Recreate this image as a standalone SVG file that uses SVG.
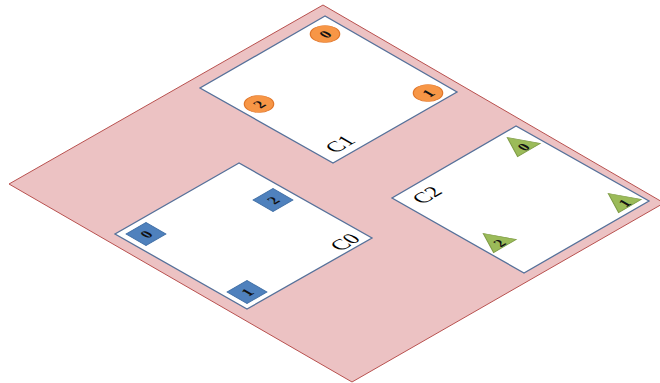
<svg xmlns="http://www.w3.org/2000/svg" width="660" height="383" viewBox="0 0 660 383">
<style>
.plane{fill:#ecc2c3;stroke:#b8514f;stroke-width:1}
.region{fill:#ffffff;stroke:#56719a;stroke-width:1.3}
.lbl{font-family:"Liberation Serif",serif;font-size:21px;fill:#000;text-anchor:middle}
.num{font-family:"Liberation Serif",serif;font-size:15px;font-weight:bold;fill:#111;text-anchor:middle}
.circ{fill:#f79646;stroke:#e0762a;stroke-width:1}
.sq{fill:#4f81bd;stroke:#3f6ea5;stroke-width:1}
.tri{fill:#9bbb59;stroke:#7f9c45;stroke-width:1}
</style>
<rect width="660" height="383" fill="#ffffff"/>
<g id="plane">
<polygon class="plane" points="323,5 9,184 352,382 664,203"/>
</g>
<g id="connectors"></g>
<g id="C1">
<polygon class="region" points="325,16 200,88 333,163 457,92"/>
<g transform="matrix(0.866 -0.5 0.866 0.5 340 144)"><text class="lbl" y="7">C1</text></g>
<g transform="matrix(0.866 -0.5 0.866 0.5 325 34)"><circle class="circ" r="12"/><text class="num" y="5.5">0</text></g>
<g transform="matrix(0.866 -0.5 0.866 0.5 428 93)"><circle class="circ" r="12"/><text class="num" y="5.5">1</text></g>
<g transform="matrix(0.866 -0.5 0.866 0.5 259 104)"><circle class="circ" r="12"/><text class="num" y="5.5">2</text></g>
</g>
<g id="C0">
<polygon class="region" points="239,163 115,234 247,309 372,238"/>
<g transform="matrix(0.866 -0.5 0.866 0.5 345 242)"><text class="lbl" y="7">C0</text></g>
<g transform="matrix(0.866 -0.5 0.866 0.5 146 234)"><rect class="sq" x="-11.5" y="-11.5" width="23" height="23"/><text class="num" y="5.5">0</text></g>
<g transform="matrix(0.866 -0.5 0.866 0.5 247 292)"><rect class="sq" x="-11.5" y="-11.5" width="23" height="23"/><text class="num" y="5.5">1</text></g>
<g transform="matrix(0.866 -0.5 0.866 0.5 273 200)"><rect class="sq" x="-11.5" y="-11.5" width="23" height="23"/><text class="num" y="5.5">2</text></g>
</g>
<g id="C2">
<polygon class="region" points="516,126 392,198 524,273 649,201"/>
<g transform="matrix(0.866 -0.5 0.866 0.5 427 195)"><text class="lbl" y="7">C2</text></g>
<g transform="matrix(0.866 -0.5 0.866 0.5 522 146)"><polygon class="tri" points="0,-17 -13,8 13,8"/><text class="num" y="7">0</text></g>
<g transform="matrix(0.866 -0.5 0.866 0.5 623 202)"><polygon class="tri" points="0,-17 -13,8 13,8"/><text class="num" y="7">1</text></g>
<g transform="matrix(0.866 -0.5 0.866 0.5 498 242)"><polygon class="tri" points="0,-17 -13,8 13,8"/><text class="num" y="7">2</text></g>
</g>
</svg>
